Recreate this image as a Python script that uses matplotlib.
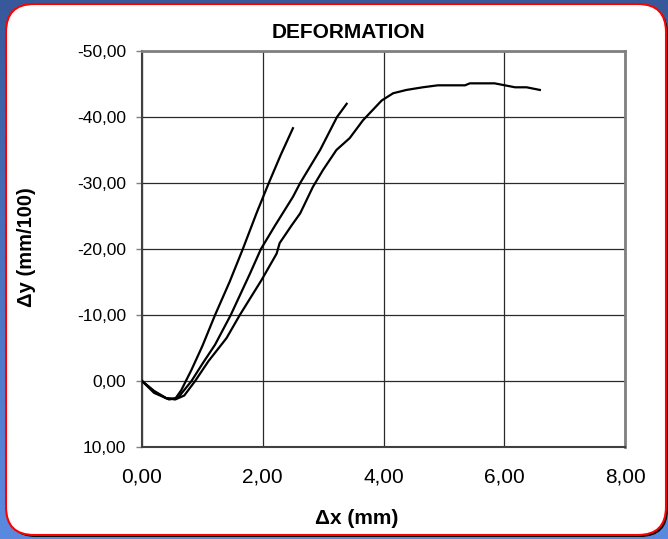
#!/usr/bin/env python3

import numpy as np
import matplotlib
matplotlib.use("Agg")
import matplotlib.pyplot as plt
from matplotlib.patches import FancyBboxPatch
from matplotlib.ticker import FuncFormatter, MultipleLocator

plt.rcParams['font.family'] = ['Liberation Sans', 'DejaVu Sans']

# Curve A (steepest)
x_a = [0, 0.2, 0.4, 0.55, 0.65, 0.82, 1.0, 1.21, 1.45, 1.67, 1.9, 2.1, 2.3, 2.5]
y_a = [0, 1.5, 2.6, 2.7, 1.4, -1.7, -5.3, -10, -15, -20, -25.5, -30, -34.3, -38.3]

# Curve B (middle)
x_b = [0, 0.2, 0.45, 0.6, 0.82, 1.0, 1.21, 1.47, 1.79, 1.97, 2.2, 2.5, 2.62, 2.95, 3.23, 3.39]
y_b = [0, 1.8, 2.8, 2.5, 0, -2.6, -5.5, -10, -16.3, -20, -23.5, -27.9, -30, -35, -40, -42.0]

# Curve C (long one, levelling off)
x_c = [0, 0.2, 0.4, 0.55, 0.7, 0.88, 1.1, 1.4, 1.62, 1.98, 2.23, 2.28, 2.48, 2.62,
       2.83, 3.0, 3.22, 3.44, 3.66, 3.97, 4.16, 4.38, 4.65, 4.9, 5.35, 5.43, 5.84,
       6.01, 6.18, 6.37, 6.59]
y_c = [0, 1.6, 2.6, 2.8, 2.2, 0, -3, -6.5, -10, -15.3, -19.3, -20.9, -23.6, -25.4,
       -29.4, -32, -35.0, -36.8, -39.5, -42.5, -43.6, -44.1, -44.5, -44.8, -44.8,
       -45.1, -45.1, -44.8, -44.5, -44.5, -44.1]

W, H = 668, 539


def comma_fmt(v, pos):
    v = round(v, 2) + 0.0
    return f"{v:.2f}".replace('.', ',')


def main():
    fig = plt.figure(figsize=(W / 100, H / 100), dpi=100)

    # blue gradient background
    bg = fig.add_axes([0, 0, 1, 1], zorder=-10)
    grad = np.linspace(0, 1, 256).reshape(-1, 1)
    cmap = matplotlib.colors.LinearSegmentedColormap.from_list(
        'bg', ['#37599b', '#4a72bf', '#5a8ae0'])
    bg.imshow(grad, aspect='auto', cmap=cmap, extent=[0, W, 0, H], origin='upper')
    bg.set_xlim(0, W)
    bg.set_ylim(0, H)
    bg.axis('off')

    # shadow + white rounded panel with red edge
    shadow = FancyBboxPatch((8, 2), W - 8, H - 8,
                            boxstyle="round,pad=0,rounding_size=28",
                            fc='black', ec='none')
    bg.add_patch(shadow)
    panel = FancyBboxPatch((6, 4), W - 8, H - 8,
                           boxstyle="round,pad=0,rounding_size=28",
                           fc='white', ec='#ff0000', lw=1.5)
    bg.add_patch(panel)

    ax = fig.add_axes([142 / W, 1 - 447 / H, 483 / W, 396 / H])
    ax.patch.set_alpha(0)

    for xs, ys in [(x_a, y_a), (x_b, y_b), (x_c, y_c)]:
        ax.plot(xs, ys, color='black', lw=1.6, zorder=3)

    ax.set_xlim(0, 8)
    ax.set_ylim(10, -50)
    ax.xaxis.set_major_locator(MultipleLocator(2))
    ax.yaxis.set_major_locator(MultipleLocator(10))
    ax.xaxis.set_major_formatter(FuncFormatter(comma_fmt))
    ax.yaxis.set_major_formatter(FuncFormatter(comma_fmt))

    ax.grid(True, color='#2a2a2a', lw=0.9)
    ax.set_axisbelow(True)

    ax.spines['left'].set_color('#404040')
    ax.spines['bottom'].set_color('#404040')
    ax.spines['left'].set_linewidth(1.5)
    ax.spines['bottom'].set_linewidth(1.5)
    ax.spines['top'].set_color('#808080')
    ax.spines['right'].set_color('#808080')
    ax.spines['top'].set_linewidth(2)
    ax.spines['right'].set_linewidth(2)

    ax.tick_params(axis='y', length=4.5, width=1, color='#808080',
                   labelsize=12.5, pad=7, labelcolor='black')
    ax.tick_params(axis='x', length=0, labelsize=15, pad=15, labelcolor='black')

    fig.text(348 / W, 1 - 33 / H, 'DEFORMATION', ha='center', va='center',
             fontsize=15, fontweight='bold')
    fig.text(357 / W, 1 - 519 / H, '\u0394x (mm)', ha='center', va='center',
             fontsize=15, fontweight='bold')
    fig.text(26 / W, 1 - 247 / H, '\u0394y (mm/100)', ha='center', va='center',
             rotation=90, fontsize=14.5, fontweight='bold')

    fig.savefig('out.png', dpi=100)


if __name__ == "__main__":
    main()
